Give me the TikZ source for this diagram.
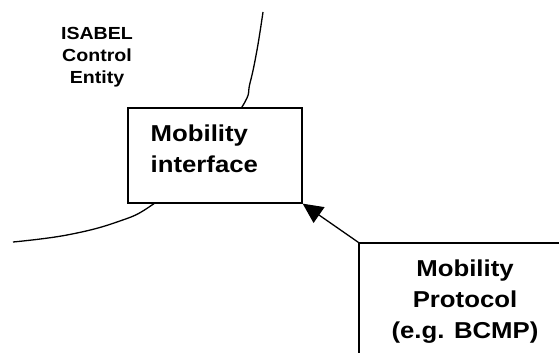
\documentclass[tikz,border=0pt]{standalone}
\usepackage{fontspec}
\setmainfont{Liberation Sans}[FakeStretch=1.12]
\usetikzlibrary{arrows.meta}

\begin{document}
\begin{tikzpicture}[x=1pt,y=-1pt,line width=1.3pt,
  every node/.style={font=\bfseries\fontsize{23}{31}\selectfont,inner sep=0},
  box/.style={draw,fill=white,rectangle}]
  \useasboundingbox (0,0) rectangle (559,353);
  \clip (0,0) rectangle (559,353);
  \node[font=\bfseries\fontsize{17.5}{22}\selectfont,align=center,anchor=north] (isabel) at (97,27) {ISABEL\\Control\\Entity};
  \draw plot[smooth,tension=0.7] coordinates {(263,12) (257,50) (250,83) (242,107) (200,165) (152,205) (117,222) (67,235) (13,242)};
  \node[box,minimum width=174pt,minimum height=95pt] (iface) at (215,155.5) {};
  \node[align=left,anchor=north west] (ifacetxt) at (150,124) {Mobility\\interface};
  \node[box,minimum width=212pt,minimum height=118pt,align=center] (proto) at (465,302) {Mobility\\Protocol\\(e.g. BCMP)};
  \draw[-{Triangle[length=20pt,width=19pt]}] (proto.north west) -- (iface.south east);
\end{tikzpicture}
\end{document}
